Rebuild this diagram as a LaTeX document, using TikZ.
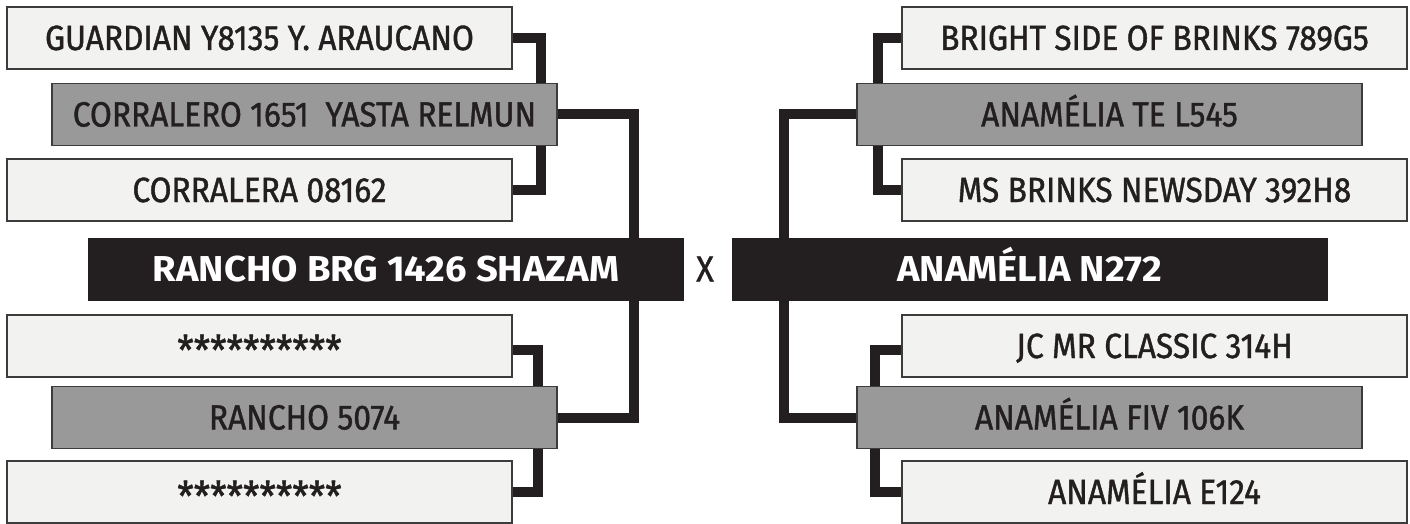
\documentclass[tikz,border=0pt]{standalone}
\usepackage{fontspec}
\setmainfont{Fira Sans}
\newfontfamily\boxfont[FakeStretch=0.905,FakeBold=1.2]{Fira Sans}
\newfontfamily\heavyfont[FakeStretch=1.06]{Fira Sans}
\usetikzlibrary{backgrounds}
\definecolor{ink}{HTML}{231F20}
\definecolor{lightfill}{HTML}{F2F2F0}
\definecolor{midfill}{HTML}{999999}
\definecolor{edgegray}{HTML}{3C3C3C}
\tikzset{
  pbox/.style={rectangle, inner sep=0pt, minimum width=505pt, minimum height=62pt,
    draw=edgegray, line width=1.2pt, text=ink,
    font=\boxfont\fontsize{35}{35}\selectfont, text height=24pt, text depth=0pt},
  lightbox/.style={pbox, fill=lightfill},
  graybox/.style={pbox, fill=midfill},
  mainbox/.style={rectangle, inner sep=0pt, minimum width=595pt, minimum height=62pt,
    fill=ink, draw=ink, text=white,
    font=\heavyfont\bfseries\fontsize{36}{36}\selectfont, text height=25pt, text depth=0pt},
  crosslabel/.style={text=ink, inner sep=0pt, font=\boxfont\fontsize{36}{36}\selectfont,
    text height=25pt, text depth=0pt},
  link/.style={draw=ink, line width=10pt, line join=miter}
}
\newcommand{\stars}{\raisebox{-7pt}[0pt][0pt]{\fontsize{41}{41}\selectfont **********}}
\begin{document}
\begin{tikzpicture}[x=1pt,y=-1pt]
\useasboundingbox (0,0) rectangle (1410,524);
% left side
\node[lightbox] (b1) at (259.5,38) {GUARDIAN Y8135 Y. ARAUCANO};
\node[graybox]  (b2) at (304.5,114.5) {CORRALERO 1651\ \ YASTA RELMUN};
\node[lightbox] (b3) at (259.5,190) {CORRALERA 08162};
\node[mainbox]  (L)  at (386,269) {RANCHO BRG 1426 SHAZAM};
\node[lightbox] (b4) at (259.5,346) {\stars};
\node[graybox]  (b5) at (304.5,417.5) {RANCHO 5074};
\node[lightbox] (b6) at (259.5,492) {\stars};
% cross
\node[crosslabel] (x) at (705,269) {X};
% right side
\node[lightbox] (r1) at (1154.5,38) {BRIGHT SIDE OF BRINKS 789G5};
\node[graybox]  (r2) at (1109.5,114.5) {ANAMÉLIA TE L545};
\node[lightbox] (r3) at (1154.5,190) {MS BRINKS NEWSDAY 392H8};
\node[mainbox]  (R)  at (1029.5,269) {ANAMÉLIA N272};
\node[lightbox] (r4) at (1154.5,346) {JC MR CLASSIC 314H};
\node[graybox]  (r5) at (1109.5,417.5) {ANAMÉLIA FIV 106K};
\node[lightbox] (r6) at (1154.5,492) {ANAMÉLIA E124};
\begin{scope}[on background layer]
\fill[white] (0,0) rectangle (1410,524);
% left connectors
\draw[link] (b1.east) -- ++(28,0) |- (b3.east);
\draw[link] ([yshift=-4pt]b4.east) -- ++(25,0) |- (b6.east);
\draw[link] (b2.east) -| ([xshift=-50pt]L.north east);
\draw[link] ([xshift=-50pt]L.south east) |- (b5.east);
% right connectors
\draw[link] (r1.west) -- ++(-23,0) |- (r3.west);
\draw[link] ([yshift=-4pt]r4.west) -- ++(-26,0) |- (r6.west);
\draw[link] (r2.west) -| ([xshift=52pt]R.north west);
\draw[link] ([xshift=52pt]R.south west) |- (r5.west);
\end{scope}
\end{tikzpicture}
\end{document}
